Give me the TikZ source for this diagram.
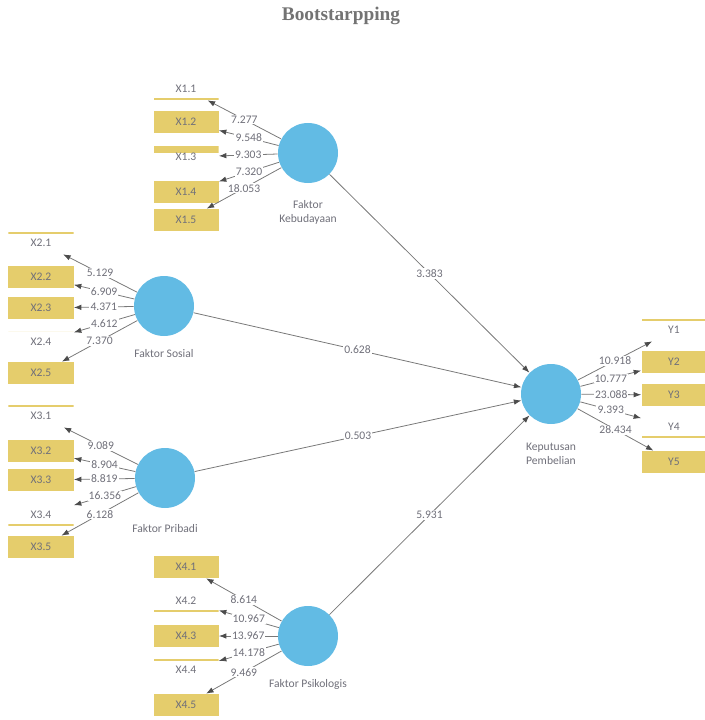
\documentclass[tikz,border=0pt]{standalone}
\usepackage{fontspec}
\setmainfont{Carlito}
\newfontfamily\titlefont{Liberation Serif}
\usetikzlibrary{arrows.meta}
\usetikzlibrary{positioning}

\definecolor{lvblue}{RGB}{98,187,228}
\definecolor{indyellow}{RGB}{229,205,108}
\definecolor{txtgrey}{RGB}{112,112,122}
\definecolor{linegrey}{RGB}{120,120,120}

\tikzset{
  lv/.style={circle, fill=lvblue, minimum size=12mm, inner sep=0pt},
  lvtext/.style={align=center, text=txtgrey, inner sep=1pt,
    font=\fontsize{6.6}{8}\selectfont},
  ind/.style={rectangle, fill=indyellow, minimum width=13mm, minimum height=4.4mm,
    inner sep=0pt, text=txtgrey, font=\fontsize{6.6}{8}\selectfont},
  indtop/.style={ind, fill=none, path picture={
    \fill[indyellow] (path picture bounding box.north west)
      rectangle ([yshift=-#1]path picture bounding box.north east);}},
  indtop/.default=0.45mm,
  indbot/.style={ind, fill=none, path picture={
    \fill[indyellow] (path picture bounding box.south west)
      rectangle ([yshift=#1]path picture bounding box.south east);}},
  indbot/.default=0.45mm,
  link/.style={draw=linegrey, line width=0.45pt,
    -{Latex[length=1.5mm, width=1.1mm, color=black!70]}},
  val/.style={midway, fill=white, inner sep=0.6pt, text=txtgrey,
    font=\fontsize{6.6}{8}\selectfont}
}

\begin{document}
\begin{tikzpicture}[x=0.2mm, y=-0.2mm]
  \useasboundingbox (0,0) rectangle (704,720);

  % Titel
  \node[text=black!55, font=\titlefont\bfseries\fontsize{11}{13}\selectfont]
    (title) at (341,16) {Bootstarpping};

  % Faktor Kebudayaan
  \node[lv] (fk) at (308,153) {};
  \node[lvtext, below=3mm of fk] (fklab) {Faktor\\Kebudayaan};
  \node[indbot] (x11) at (186,89) {X1.1};
  \node[ind] (x12) at (186,122) {X1.2};
  \node[indtop=1.4mm] (x13) at (186,157) {X1.3};
  \node[ind] (x14) at (186,192) {X1.4};
  \node[ind] (x15) at (186,220) {X1.5};
  \draw[link] (fk) -- node[val] {7.277} (x11);
  \draw[link] (fk) -- node[val] {9.548} (x12);
  \draw[link] (fk) -- node[val] {9.303} (x13);
  \draw[link] (fk) -- node[val] {7.320} (x14);
  \draw[link] (fk) -- node[val] {18.053} (x15);

  % Faktor Sosial
  \node[lv] (fs) at (164,306) {};
  \node[lvtext, below=2.2mm of fs] (fslab) {Faktor Sosial};
  \node[indtop] (x21) at (41,243) {X2.1};
  \node[ind] (x22) at (41,277) {X2.2};
  \node[ind] (x23) at (41,308) {X2.3};
  \node[indtop=0pt] (x24) at (41,342) {X2.4};
  \node[ind] (x25) at (41,373) {X2.5};
  \draw[link] (fs) -- node[val] {5.129} (x21);
  \draw[link] (fs) -- node[val] {6.909} (x22);
  \draw[link] (fs) -- node[val] {4.371} (x23);
  \draw[link] (fs) -- node[val] {4.612} (x24);
  \draw[link] (fs) -- node[val] {7.370} (x25);

  % Faktor Pribadi
  \node[lv] (fp) at (165,478) {};
  \node[lvtext, below=2.8mm of fp] (fplab) {Faktor Pribadi};
  \node[indtop] (x31) at (41,416) {X3.1};
  \node[ind] (x32) at (41,451) {X3.2};
  \node[ind] (x33) at (41,480) {X3.3};
  \node[indbot] (x34) at (41,515) {X3.4};
  \node[ind] (x35) at (41,547) {X3.5};
  \draw[link] (fp) -- node[val] {9.089} (x31);
  \draw[link] (fp) -- node[val] {8.904} (x32);
  \draw[link] (fp) -- node[val] {8.819} (x33);
  \draw[link] (fp) -- node[val] {16.356} (x34);
  \draw[link] (fp) -- node[val] {6.128} (x35);

  % Faktor Psikologis
  \node[lv] (fps) at (308,636) {};
  \node[lvtext, below=2.2mm of fps] (fpslab) {Faktor Psikologis};
  \node[ind] (x41) at (186,567) {X4.1};
  \node[indbot] (x42) at (186,601) {X4.2};
  \node[ind] (x43) at (186,636) {X4.3};
  \node[indtop] (x44) at (186,670) {X4.4};
  \node[ind] (x45) at (186,705) {X4.5};
  \draw[link] (fps) -- node[val] {8.614} (x41);
  \draw[link] (fps) -- node[val] {10.967} (x42);
  \draw[link] (fps) -- node[val] {13.967} (x43);
  \draw[link] (fps) -- node[val] {14.178} (x44);
  \draw[link] (fps) -- node[val] {9.469} (x45);

  % Keputusan Pembelian
  \node[lv] (kp) at (551,394) {};
  \node[lvtext, below=3.4mm of kp] (kplab) {Keputusan\\Pembelian};
  \node[indtop] (y1) at (674,330) {Y1};
  \node[ind] (y2) at (674,362) {Y2};
  \node[ind] (y3) at (674,395) {Y3};
  \node[indbot] (y4) at (674,427) {Y4};
  \node[ind] (y5) at (674,462) {Y5};
  \draw[link] (kp) -- node[val] {10.918} (y1);
  \draw[link] (kp) -- node[val] {10.777} (y2);
  \draw[link] (kp) -- node[val] {23.088} (y3);
  \draw[link] (kp) -- node[val] {9.393} (y4);
  \draw[link] (kp) -- node[val] {28.434} (y5);

  % Jalur struktural
  \draw[link] (fk) -- node[val] {3.383} (kp);
  \draw[link] (fs) -- node[val] {0.628} (kp);
  \draw[link] (fp) -- node[val] {0.503} (kp);
  \draw[link] (fps) -- node[val] {5.931} (kp);
\end{tikzpicture}
\end{document}
